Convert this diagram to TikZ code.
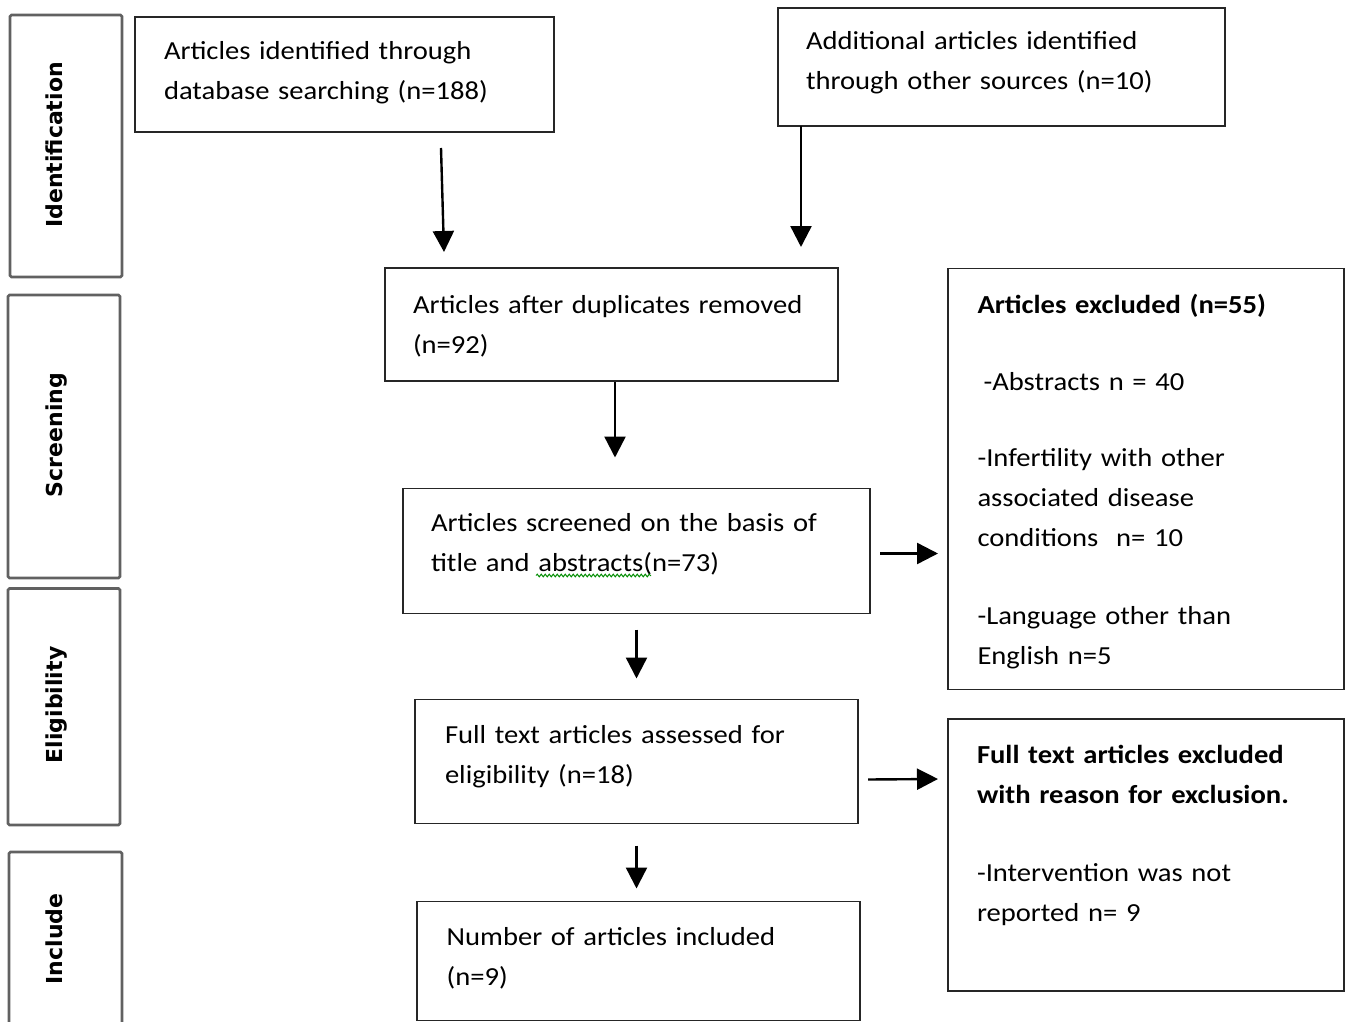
\documentclass[tikz,border=0pt]{standalone}
\usepackage{fontspec}
\usetikzlibrary{arrows.meta,calc,decorations.pathmorphing}
\newfontfamily\calfont[FakeStretch=1.1]{Carlito}
\newfontfamily\sidefont{DejaVu Sans}
\begin{document}
\begin{tikzpicture}[x=1pt,y=-1pt,
  box/.style={draw=black!85,line width=1.8pt,anchor=north west,inner sep=0pt,outer sep=0pt},
  sidebox/.style={draw=black!62,line width=2.6pt,rounded corners=1.5pt,anchor=north west,inner sep=0pt,outer sep=0pt},
  sidelab/.style={font=\sidefont\bfseries\fontsize{22}{26}\selectfont,rotate=90,anchor=base,inner sep=0pt},
  txt/.style={font=\calfont\fontsize{26}{40}\selectfont,anchor=base west,text width=420pt,align=left,inner sep=0pt,outer sep=0pt,text=black},
  arr/.style={line width=2.4pt,-{Triangle[length=21pt,width=21pt]}},
  squig/.style={draw=green!55!black,line width=1pt,decorate,decoration={snake,segment length=4pt,amplitude=1.3pt}}
]
\useasboundingbox (0,0) rectangle (1347,1022);
\clip (0,0) rectangle (1347,1022);
% side boxes
\node[sidebox,minimum width=112pt,minimum height=262pt] (SI) at (10,15) {};
\node[sidebox,minimum width=112pt,minimum height=283pt] (SS) at (8,295) {};
\node[sidebox,minimum width=112pt,minimum height=236.5pt] (SE) at (8,588.5) {};
\node[sidebox,minimum width=113pt,minimum height=190pt] (SN) at (9,852) {};
\node[sidelab] (LI) at (62.5,145) {Identification};
\node[sidelab] (LS) at (62.5,435) {Screening};
\node[sidelab] (LE) at (62.5,705) {Eligibility};
\node[sidelab] (LN) at (62.5,939) {Include};
% main boxes
\node[box,minimum width=419pt,minimum height=115pt] (A) at (135,17) {};
\node[box,minimum width=447pt,minimum height=118pt] (B) at (778,8) {};
\node[box,minimum width=453pt,minimum height=113pt] (C) at (385,268) {};
\node[box,minimum width=467pt,minimum height=125pt] (D) at (403,488.5) {};
\node[box,minimum width=396pt,minimum height=421pt] (E) at (948,268.5) {};
\node[box,minimum width=443pt,minimum height=124pt] (F) at (415,699.5) {};
\node[box,minimum width=396pt,minimum height=272pt] (G) at (948,719) {};
\node[box,minimum width=443pt,minimum height=119pt] (H) at (417,901.5) {};
% texts
\node[txt] (At) at (164,59.5) {Articles identified through\\database searching (n=188)};
\node[txt] (Bt) at (806,50) {Additional articles identified\\through other sources (n=10)};
\node[txt] (Ct) at (413,313) {Articles after duplicates removed\\(n=92)};
\node[txt] (Dt) at (431,531.5) {Articles screened on the basis of\\title and abstracts(n=73)};
\node[txt] (Et) at (977.5,313) {\textbf{Articles excluded (n=55)}\\[37pt]
\hspace*{6pt}-Abstracts n = 40\\[36pt]
-Infertility with other\\associated disease\\conditions\hspace{18pt}n= 10\\[38pt]
-Language other than\\English n=5};
\node[txt] (Ft) at (445,743.5) {Full text articles assessed for\\eligibility (n=18)};
\node[txt] (Gt) at (977,763) {\textbf{Full text articles excluded}\\\textbf{with reason for exclusion.}\\[38pt]
-Intervention was not\\reported n= 9};
\node[txt] (Ht) at (446.7,945.5) {Number of articles included\\(n=9)};
% spell-check squiggle
\draw[squig] ($(Dt.base west)+(105,44)$) -- ($(Dt.base west)+(220,44)$);
% arrows
\draw[arr] ($(A.south west)+(306,16)$) -- ($(C.north west)+(59,-16)$);
\draw[arr] ($(B.south west)+(23,0)$) -- ($(C.north west)+(416,-21)$);
\draw[arr] ($(C.south west)+(230,1)$) -- ($(D.north west)+(212,-31)$);
\draw[arr] ($(D.south east)+(10,-60)$) -- ($(E.south west)+(-10,-136)$);
\draw[arr] ($(D.south west)+(233.5,16)$) -- ($(F.north west)+(221.5,-21)$);
\draw[arr] ($(F.south east)+(10,-44)$) -- ($(G.north west)+(-10,60)$);
\draw[arr] ($(F.south west)+(221.5,22)$) -- ($(H.north west)+(219.5,-13)$);
\end{tikzpicture}
\end{document}
